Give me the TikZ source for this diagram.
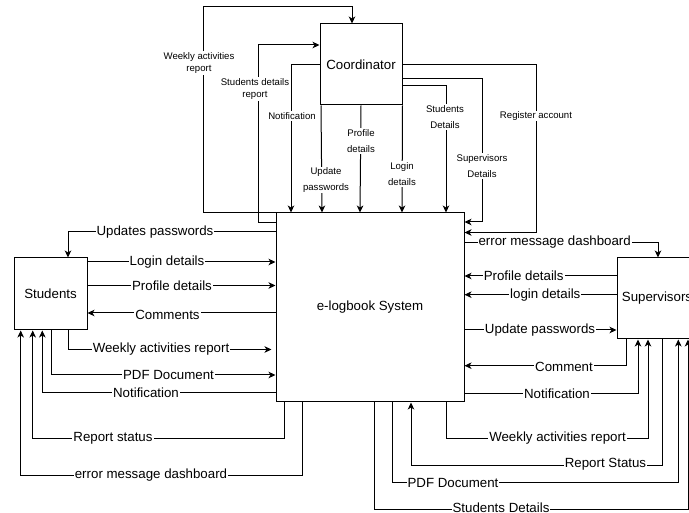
\documentclass[tikz,border=0pt]{standalone}
\usepackage{fontspec}
\setmainfont{Liberation Sans}
\usetikzlibrary{arrows.meta}
\tikzset{
  box/.style={draw, line width=1pt, fill=white, inner sep=0pt, font=\fontsize{13.3}{16}\selectfont},
  flow/.style={draw, line width=1pt, -{Stealth[length=7pt,width=6.5pt,inset=2pt]}},
  lbl/.style={fill=white, inner sep=1pt, font=\fontsize{13.3}{16}\selectfont},
  slbl/.style={fill=white, inner sep=1pt, align=center, font=\fontsize{9.6}{16}\selectfont},
  tlbl/.style={fill=white, inner sep=1pt, align=center, font=\fontsize{9.6}{12.5}\selectfont}
}
\begin{document}
\begin{tikzpicture}[x=1pt,y=-1pt]
\useasboundingbox (0,0) rectangle (689,513);
\clip (0,0) rectangle (689,513);
\fill[white] (0,0) rectangle (689,513);

% boxes
\node[box, minimum width=82pt, minimum height=81pt] (coord) at (361,64.5) {Coordinator};
\node[box, minimum width=188pt, minimum height=189pt] (sys) at (370,307.5) {e-logbook System};
\node[box, minimum width=73pt, minimum height=72pt] (stu) at (50.5,294) {Students};
\node[box, minimum width=80pt, minimum height=81pt] (sup) at (657,298.5) {Supervisors};

% top connectors
\draw[flow] (sys.north west) -| (203,7) -| (coord.north -| 352,0);
\draw[flow] (sys.west |- 0,223) -| (258,45) -- (coord.west |- 0,45);
\draw[flow] (coord.west |- 0,65) -| (sys.north -| 291,0);
\draw[flow] (coord.south -| 321,0) -- (sys.north -| 322,0);
\draw[flow] (coord.south) -- (sys.north -| 360,0);
\draw[flow] (coord.south east) -- (sys.north -| 402,0);
\draw[flow] (coord.east |- 0,86) -| (sys.north -| 446,0);
\draw[flow] (coord.east |- 0,79) -| (482,222) -- (sys.east |- 0,222);
\draw[flow] (coord.east |- 0,64.5) -| (536,232.5) -- (sys.east |- 0,232.5);

\node[tlbl] (l1) at (199,63) {Weekly activities\\report};
\node[tlbl] (l2) at (255,89) {Students details\\report};
\node[slbl] (l3) at (292,116) {Notification};
\node[slbl] (l4) at (326,180) {Update\\passwords};
\node[slbl] (l5) at (361,141) {Profile\\details};
\node[slbl] (l6) at (402,174) {Login\\details};
\node[slbl] (l7) at (445,117) {Students\\Details};
\node[slbl] (l8) at (482,166) {Supervisors\\Details};
\node[slbl] (l9) at (536,116) {Register account};

% left connectors
\draw[flow] (sys.west |- 0,232) -| (stu.north -| 68,0);
\draw[flow] (stu.east |- 0,262) -- (sys.west |- 0,262);
\draw[flow] (stu.east |- 0,285.5) -- (sys.west |- 0,285.5);
\draw[flow] (sys.west |- 0,313) -- (stu.east |- 0,313);
\draw[flow] (stu.south -| 68,0) |- ([xshift=-4pt]sys.west |- 0,349.5);
\draw[flow] (stu.south -| 51,0) |- (sys.west |- 0,375);
\draw[flow] (sys.west |- 0,392.5) -| (stu.south -| 42.3,0);
\draw[flow] (sys.south -| 284.3,0) |- (32.7,438.7) -- (stu.south -| 32.7,0);
\draw[flow] (sys.south -| 302.3,0) |- (20.7,475.7) -- (stu.south -| 20.7,0);

\node[lbl] (m1) at (155,232) {Updates passwords};
\node[lbl] (m2) at (167,262) {Login details};
\node[lbl] (m3) at (172,285.5) {Profile details};
\node[lbl] (m4) at (167.5,314.5) {Comments};
\node[lbl] (m5) at (161,349.5) {Weekly activities report};
\node[lbl] (m6) at (168.5,375) {PDF Document};
\node[lbl] (m7) at (146,392.5) {Notification};
\node[lbl] (m8) at (113,438.5) {Report status};
\node[lbl] (m9) at (151,475.5) {error message dashboard};

% right connectors
\draw[flow] (sys.east |- 0,242.7) -| (sup.north -| 658,0);
\draw[flow] (sup.west |- 0,276) -- (sys.east |- 0,276);
\draw[flow] (sup.west |- 0,294.7) -- (sys.east |- 0,294.7);
\draw[flow] (sys.east |- 0,330) -- (sup.west |- 0,330);
\draw[flow] (sup.south -| 626.7,0) |- (sys.east |- 0,365.7);
\draw[flow] (sys.east |- 0,393.3) -| (sup.south -| 638,0);
\draw[flow] (sys.south -| 446.7,0) |- (648,438.7) -- (sup.south -| 648,0);
\draw[flow] (sup.south -| 662.3,0) |- (411,465) -- (sys.south -| 411,0);
\draw[flow] (sys.south -| 392.7,0) |- (678.3,482.7) -- (sup.south -| 678.3,0);
\draw[flow] (sys.south -| 374.3,0) |- (688,509) -- (sup.south -| 688,0);

\node[lbl] (r1) at (554.7,242.5) {error message dashboard};
\node[lbl] (r2) at (523.7,276) {Profile details};
\node[lbl] (r3) at (545.3,294.7) {login details};
\node[lbl] (r4) at (540,330) {Update passwords};
\node[lbl] (r5) at (564,366.5) {Comment};
\node[lbl] (r6) at (557,393.3) {Notification};
\node[lbl] (r7) at (557.5,438.5) {Weekly activities report};
\node[lbl] (r8) at (605.5,464.5) {Report Status};
\node[lbl] (r9) at (453,482.5) {PDF Document};
\node[lbl] (r10) at (501,508) {Students Details};
\end{tikzpicture}
\end{document}
